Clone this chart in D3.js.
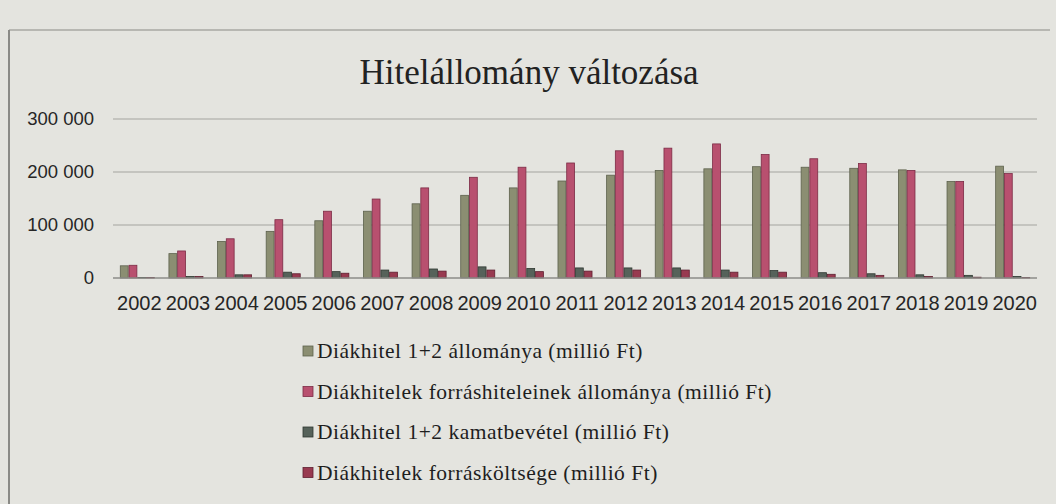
<!DOCTYPE html>
<html>
<head>
<meta charset="utf-8">
<script src="https://cdn.jsdelivr.net/npm/d3@7"></script>
<style>
  body { margin: 0; background: #e4e4df; }
  svg { display: block; }
</style>
</head>
<body>
<div id="chart-container"></div>
<script>
// chart data (millió Ft)
let years = ["2002", "2003", "2004", "2005", "2006", "2007", "2008", "2009", "2010", "2011",
             "2012", "2013", "2014", "2015", "2016", "2017", "2018", "2019", "2020"];
let loanStock = [23000, 46000, 69000, 88000, 108000, 126000, 140000, 156000, 170000, 183000,
                 194000, 203000, 206000, 210000, 209000, 207000, 204000, 182000, 211000];
let fundingStock = [24000, 51000, 74000, 110000, 126000, 149000, 170000, 190000, 209000, 217000,
                    240000, 245000, 253000, 233000, 225000, 216000, 203000, 182000, 197000];
let interestIncome = [1000, 3000, 6000, 11000, 12000, 15000, 17000, 21000, 18000, 19000,
                      19000, 19000, 15000, 14000, 10000, 8000, 6000, 5000, 3000];
let fundingCost = [800, 3000, 6000, 8000, 9000, 11000, 13000, 15000, 12000, 13000,
                   15000, 15000, 11000, 11000, 7000, 5000, 3000, 1500, 1000];
let seriesNames = [
    "Diákhitel 1+2 állománya (millió Ft)",
    "Diákhitelek forráshiteleinek állománya (millió Ft)",
    "Diákhitel 1+2 kamatbevétel (millió Ft)",
    "Diákhitelek forrásköltsége (millió Ft)"
];
let yTicks = [0, 100000, 200000, 300000];
let title = "Hitelállomány változása";

let fills = ["#8b8e72", "#b8506f", "#56625a", "#983a50"];
let strokes = ["#5d614d", "#7c2b45", "#2f3831", "#5f1f30"];

let W = 1056, H = 504;
let plot = {left: 113, right: 1037, top: 119, bottom: 278};

let svg = d3.select("#chart-container")
    .append("svg")
    .attr("width", W)
    .attr("height", H);

// frame of the printed figure
svg.append("line")
    .attr("x1", 9).attr("x2", 9).attr("y1", 30).attr("y2", H)
    .attr("stroke", "#6d6d69").attr("stroke-width", 1.5);
svg.append("line")
    .attr("x1", 9).attr("x2", 1050).attr("y1", 30).attr("y2", 30)
    .attr("stroke", "#8a8a86").attr("stroke-width", 1.2);

// Title
svg.append("text")
    .attr("x", 529)
    .attr("y", 84)
    .attr("text-anchor", "middle")
    .style("font-family", "'Liberation Serif', 'DejaVu Serif', serif")
    .style("font-size", "35px")
    .style("fill", "#222")
    .text(title);

let x0 = d3.scaleBand()
    .domain(years)
    .range([plot.left, plot.right])
    .paddingInner(0.3)
    .paddingOuter(0.15);

let x1 = d3.scaleBand()
    .domain(d3.range(4))
    .range([0, x0.bandwidth()])
    .paddingInner(0.1);

let y = d3.scaleLinear()
    .domain([0, 300000])
    .range([plot.bottom, plot.top]);

let locale = d3.formatLocale({decimal: ",", thousands: " ", grouping: [3], currency: ["", " Ft"]});
let fmt = locale.format(",d");

// gridlines
svg.append("g")
    .selectAll("line")
    .data(yTicks.filter(d => d > 0))
    .enter()
    .append("line")
    .attr("x1", plot.left)
    .attr("x2", plot.right)
    .attr("y1", d => y(d))
    .attr("y2", d => y(d))
    .attr("stroke", "#a3a39f")
    .attr("stroke-width", 1.2);

// Y axis labels
let yAxis = d3.axisLeft(y)
    .tickValues(yTicks)
    .tickFormat(fmt)
    .tickSize(0)
    .tickPadding(0);
let yg = svg.append("g")
    .attr("transform", "translate(" + (plot.left - 19) + ",0)")
    .call(yAxis);
yg.select(".domain").remove();
yg.selectAll("text")
    .style("font-family", "'Liberation Sans', Arial, sans-serif")
    .style("font-size", "18.5px")
    .style("fill", "#262626");

// bars
let rows = years.map((yr, i) => ({
    year: yr,
    values: [loanStock[i], fundingStock[i], interestIncome[i], fundingCost[i]]
}));

let groups = svg.append("g")
    .selectAll("g")
    .data(rows)
    .enter()
    .append("g")
    .attr("transform", d => "translate(" + x0(d.year) + ",0)");

groups.selectAll("rect")
    .data(d => d.values.map((v, k) => ({k: k, v: v})))
    .enter()
    .append("rect")
    .attr("x", d => x1(d.k))
    .attr("y", d => y(d.v))
    .attr("width", x1.bandwidth())
    .attr("height", d => plot.bottom - y(d.v))
    .attr("fill", d => fills[d.k])
    .attr("stroke", d => strokes[d.k])
    .attr("stroke-width", 0.8);

// baseline
svg.append("line")
    .attr("x1", plot.left)
    .attr("x2", plot.right)
    .attr("y1", y(0))
    .attr("y2", y(0))
    .attr("stroke", "#8d8d89")
    .attr("stroke-width", 1.3);

// X axis labels
let xAxis = d3.axisBottom(x0).tickSize(0).tickPadding(0);
let xg = svg.append("g")
    .attr("transform", "translate(2," + (plot.bottom + 18) + ")")
    .call(xAxis);
xg.select(".domain").remove();
xg.selectAll("text")
    .style("font-family", "'Liberation Sans', Arial, sans-serif")
    .style("font-size", "20px")
    .style("fill", "#262626");

// legend
let legend = svg.append("g")
    .selectAll("g")
    .data(seriesNames)
    .enter()
    .append("g")
    .attr("transform", (d, i) => "translate(303," + (351 + i * 40.5) + ")");

legend.append("rect")
    .attr("x", 0)
    .attr("y", -5)
    .attr("width", 10)
    .attr("height", 10)
    .attr("fill", (d, i) => fills[i])
    .attr("stroke", (d, i) => strokes[i])
    .attr("stroke-width", 0.8);

legend.append("text")
    .attr("x", 14)
    .attr("y", 7)
    .style("font-family", "'Liberation Serif', 'DejaVu Serif', serif")
    .style("font-size", "21.5px")
    .style("letter-spacing", "0.5px")
    .style("fill", "#1e1e1e")
    .text(d => d);
</script>
</body>
</html>
